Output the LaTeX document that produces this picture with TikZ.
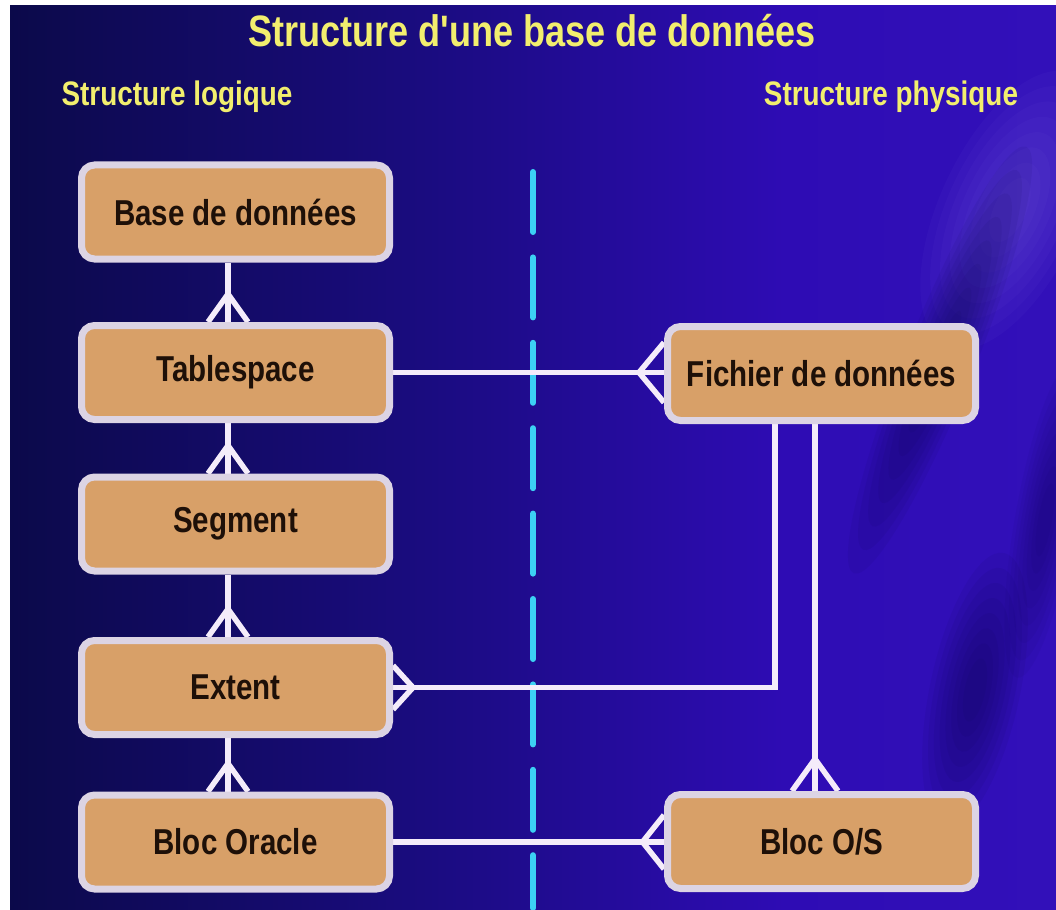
\documentclass[tikz,border=0pt]{standalone}
\usepackage{fontspec}
\setmainfont{Liberation Sans}
\usepackage{graphicx}
\usetikzlibrary{calc}
\definecolor{bgA}{HTML}{090942}
\definecolor{bgB}{HTML}{1A0C80}
\definecolor{bgC}{HTML}{2E0CB4}
\definecolor{bgD}{HTML}{3A18C4}
\definecolor{streak}{HTML}{0A0848}
\definecolor{glow}{HTML}{8A74E8}
\definecolor{titleyellow}{HTML}{F2EE6E}
\definecolor{boxfill}{HTML}{D8A068}
\definecolor{boxborder}{HTML}{DCD4E4}
\definecolor{boxtext}{HTML}{1E1008}
\definecolor{linecol}{HTML}{F4ECFA}
\definecolor{dividercol}{HTML}{3CD0F4}
\pgfdeclarelayer{bglayer}
\pgfdeclarelayer{linelayer}
\pgfsetlayers{bglayer,linelayer,main}
\pgfdeclarehorizontalshading{bgshade}{100bp}{color(0bp)=(bgA); color(22bp)=(bgA); color(45bp)=(bgB); color(62bp)=(bgC); color(100bp)=(bgD)}
\newcommand{\narrowtxt}[1]{\scalebox{0.82}[1]{#1}}
% soft blob: colour, layer opacity, x, y, rotation, semi-axis a, semi-axis b
\newcommand{\softblob}[7]{%
  \foreach \k in {0,...,7} {%
    \fill[#1, opacity=#2, transform canvas={shift={(#3,#4)}, rotate=#5}]
      (0,0) ellipse ({(1-0.11*\k)*#6pt} and {(1-0.11*\k)*#7pt});
  }%
}
\tikzset{
  box/.style={draw=boxborder, fill=boxfill, line width=7pt, rounded corners=13pt,
    minimum width=308pt, minimum height=94pt, inner sep=0pt, text=boxtext,
    font=\fontsize{36}{40}\selectfont\bfseries},
  conn/.style={draw=linecol, line width=5.5pt},
  heading/.style={text=titleyellow, inner sep=0pt, font=\fontsize{34}{38}\selectfont\bfseries},
  maintitle/.style={text=titleyellow, inner sep=0pt, font=\fontsize{44}{48}\selectfont\bfseries},
  divider/.style={draw=dividercol, line width=6pt, line cap=round, dash pattern=on 60pt off 25.4pt}
}
\begin{document}
\begin{tikzpicture}[x=1pt,y=-1pt]
\useasboundingbox (0,0) rectangle (1056,909);
\begin{pgfonlayer}{bglayer}
  \fill[white] (0,0) rectangle (1056,909);
  \shade[shading=bgshade] (10,6) rectangle (1056,909);
  \begin{scope}
    \clip (10,6) rectangle (1056,909);
    \softblob{glow}{0.05}{1010}{210}{65}{150}{70}
    \softblob{streak}{0.07}{940}{360}{68}{230}{35}
    \softblob{streak}{0.07}{975}{690}{78}{140}{45}
    \softblob{streak}{0.05}{1045}{520}{80}{160}{30}
  \end{scope}
\end{pgfonlayer}

% titles
\node[maintitle, anchor=base] (title) at (532,47) {\narrowtxt{Structure d\textquotesingle une base de données}};
\node[heading, anchor=base] (logique) at (177,106) {\narrowtxt{Structure logique}};
\node[heading, anchor=base] (physique) at (891,106) {\narrowtxt{Structure physique}};

% logical structure
\node[box] (base) at (235.5,212) {\narrowtxt{Base de données}};
\node[box] (ts)   at (235.5,372.5) {\narrowtxt{Tablespace}};
\node[box] (seg)  at (235.5,524) {\narrowtxt{Segment}};
\node[box] (ext)  at (235.5,687.5) {\narrowtxt{Extent}};
\node[box] (bo)   at (235.5,842) {\narrowtxt{Bloc Oracle}};
% physical structure
\node[box] (fd)   at (821.5,373.5) {\narrowtxt{Fichier de données}};
\node[box] (bos)  at (821.5,841.5) {\narrowtxt{Bloc O/S}};

% divider
\coordinate (dtop) at (533,172);
\coordinate (dbot) at (533,908);

\begin{pgfonlayer}{linelayer}
  \draw[divider] (dtop) -- (dbot);
  % vertical one-to-many links on the left
  \foreach \a/\b in {base/ts, ts/seg, seg/ext, ext/bo} {
    \draw[conn] ([xshift=-7.5pt]\a.south) -- ([xshift=-7.5pt]\b.north);
    \draw[conn, line join=miter] ([xshift=-27.5pt]\b.north) -- ([xshift=-7.5pt,yshift=28pt]\b.north) -- ([xshift=12.5pt]\b.north);
  }
  % Tablespace -- Fichier de donnees
  \coordinate (fdl) at (ts.east -| fd.west);
  \draw[conn] (ts.east) -- (fdl);
  \draw[conn] ([yshift=30pt]fdl) -- ([xshift=-25pt]fdl) -- ([yshift=-30pt]fdl);
  % Extent -- Fichier de donnees
  \draw[conn] (ext.east) -| ([xshift=-46.5pt]fd.south);
  \draw[conn] ([yshift=22pt]ext.east) -- ([xshift=20pt]ext.east) -- ([yshift=-22pt]ext.east);
  % Fichier de donnees -- Bloc O/S
  \draw[conn] ([xshift=-6.5pt]fd.south) -- ([xshift=-6.5pt]bos.north);
  \draw[conn] ([xshift=-29.5pt]bos.north) -- ([xshift=-6.5pt,yshift=32pt]bos.north) -- ([xshift=16.5pt]bos.north);
  % Bloc Oracle -- Bloc O/S
  \coordinate (bosl) at (bo.east -| bos.west);
  \draw[conn] (bo.east) -- (bosl);
  \draw[conn] ([yshift=27pt]bosl) -- ([xshift=-21.5pt]bosl) -- ([yshift=-27pt]bosl);
\end{pgfonlayer}
\end{tikzpicture}
\end{document}
